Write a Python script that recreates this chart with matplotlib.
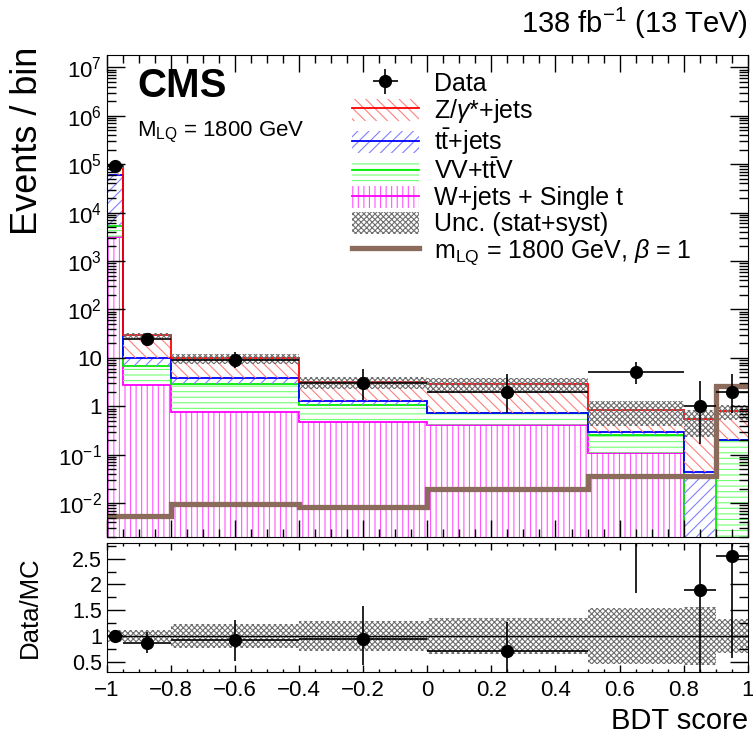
import numpy as np
import matplotlib
matplotlib.use('Agg')
import matplotlib.pyplot as plt
from matplotlib.patches import Patch
from matplotlib.lines import Line2D
from matplotlib.legend_handler import HandlerTuple
from matplotlib.ticker import MultipleLocator, FuncFormatter, LogLocator, NullFormatter

plt.rcParams['font.family'] = ['Liberation Sans', 'DejaVu Sans']
plt.rcParams['mathtext.fontset'] = 'custom'
plt.rcParams['mathtext.rm'] = 'Liberation Sans'
plt.rcParams['mathtext.it'] = 'Liberation Sans:italic'
plt.rcParams['mathtext.bf'] = 'Liberation Sans:bold'
plt.rcParams['hatch.linewidth'] = 0.8

# BDT score binning
edges = np.array([-1.0, -0.95, -0.8, -0.4, 0.0, 0.5, 0.8, 0.9, 1.0])

# backgrounds, events per bin (stack order: bottom first)
wjets = [3100, 2.7, 0.77, 0.48, 0.42, 0.11, 0.0, 0.0]
vv = [2300, 4.0, 2.1, 0.58, 0.29, 0.15, 0.0, 0.2]
ttbar = [53600, 3.3, 0.9, 0.24, 0.01, 0.03, 0.044, 0.005]
zjets = [33000, 19.0, 6.0, 1.85, 2.13, 0.55, 0.49, 0.58]
rel_unc = [0.12, 0.12, 0.24, 0.29, 0.35, 0.54, 0.57, 0.33]
signal = [0.0055, 0.0055, 0.0095, 0.0085, 0.020, 0.037, 0.037, 2.6]

data = [90000, 25, 9, 3, 2, 5, 1, 2]
data_err_lo = [300, 4.97, 2.94, 1.63, 1.29, 2.16, 0.83, 1.29]
data_err_hi = [300, 6.1, 4.1, 2.92, 2.64, 3.38, 2.3, 2.64]

ratio = [1.0, 0.87, 0.92, 0.95, 0.70, 5.9, 1.9, 2.55]
ratio_err_lo = [0.01, 0.2, 0.4, 0.52, 0.45, 4.07, 1.6, 1.97]
ratio_err_hi = [0.01, 0.2, 0.39, 0.63, 0.57, 2.0, 2.5, 1.5]

centers = 0.5 * (edges[1:] + edges[:-1])
halfw = 0.5 * (edges[1:] - edges[:-1])

fig = plt.figure(figsize=(7.53, 7.37), dpi=100)
ax = fig.add_axes([0.142, 0.2714, 0.851, 0.654])
rax = fig.add_axes([0.142, 0.0882, 0.851, 0.1748])

floor = 1e-5
comps = [
    (wjets, '#ff00ff', '#ff55ff', '|||', 'W+jets + Single t'),
    (vv, '#00ee00', '#70ff70', '---', r'VV+t$\bar{\mathrm{t}}$V'),
    (ttbar, '#0000ff', '#8080ff', '///', r't$\bar{\mathrm{t}}$+jets'),
    (zjets, '#ff0000', '#ff8080', '\\\\\\', r'Z/$\gamma$*+jets'),
]
low = np.zeros(len(centers))
handles = {}
for vals, col, hcol, hatch, label in comps:
    high = low + np.array(vals)
    ax.stairs(np.maximum(high, floor), edges, baseline=np.maximum(low, floor), fill=True,
              facecolor='none', edgecolor=hcol, hatch=hatch, linewidth=0)
    ax.stairs(np.maximum(high, floor), edges, baseline=None, color=col, lw=1.3)
    handles[label] = (Patch(facecolor='none', edgecolor=hcol, hatch=hatch, linewidth=0),
                      Line2D([], [], color=col, lw=1.3))
    low = high
total = low
unc = np.array(rel_unc)

# uncertainty band
ax.stairs(total * (1 + unc), edges, baseline=total * (1 - unc), fill=True,
          facecolor='none', edgecolor='#6e6e6e', hatch='xxxxxx', linewidth=0)

# signal
ax.stairs(signal, edges, baseline=None, color='#8b6b5b', lw=3.8)

# data
dat = ax.errorbar(centers, data, xerr=halfw, yerr=[data_err_lo, data_err_hi], fmt='o',
                  color='k', ms=8.5, lw=1.2, capsize=0)

ax.set_yscale('log')
ax.set_xlim(-1, 1)
ax.set_ylim(2e-3, 1.8e7)


def logfmt(v, pos):
    if np.isclose(v, 1):
        return '1'
    if np.isclose(v, 10):
        return '10'
    return r'$10^{%d}$' % int(round(np.log10(v)))


ax.yaxis.set_major_locator(LogLocator(base=10, numticks=20))
ax.yaxis.set_minor_locator(LogLocator(base=10, subs=np.arange(2, 10) * 1.0, numticks=100))
ax.yaxis.set_major_formatter(FuncFormatter(logfmt))
ax.yaxis.set_minor_formatter(NullFormatter())
ax.xaxis.set_major_locator(MultipleLocator(0.2))
ax.xaxis.set_minor_locator(MultipleLocator(0.05))
ax.tick_params(axis='x', labelbottom=False)
ax.tick_params(which='both', direction='in', top=True, right=True, width=1, labelsize=16)
ax.tick_params(axis='y', which='major', length=13)
ax.tick_params(axis='y', which='minor', length=6.5)
ax.tick_params(axis='x', which='major', length=12)
ax.tick_params(axis='x', which='minor', length=6)
ax.set_ylabel('Events / bin', fontsize=26, loc='top')
ax.yaxis.set_label_coords(-0.096, 1.017)

ax.text(0.047, 0.975, 'CMS', transform=ax.transAxes, fontsize=29, fontweight='bold',
        va='top', ha='left')
ax.text(0.047, 0.865, r'M$_{\mathrm{LQ}}$ = 1800 GeV', transform=ax.transAxes, fontsize=16,
        va='top', ha='left')
fig.text(0.993, 0.945, r'138 fb$^{\mathregular{-1}}$ (13 TeV)', fontsize=21, ha='right', va='bottom')

sig_h = Line2D([], [], color='#8b6b5b', lw=3.8)
unc_h = Patch(facecolor='none', edgecolor='#6e6e6e', hatch='xxxxxx', linewidth=0)
leg_handles = [dat, handles[r'Z/$\gamma$*+jets'], handles[r't$\bar{\mathrm{t}}$+jets'],
               handles[r'VV+t$\bar{\mathrm{t}}$V'], handles['W+jets + Single t'], unc_h, sig_h]
leg_labels = ['Data', r'Z/$\gamma$*+jets', r't$\bar{\mathrm{t}}$+jets', r'VV+t$\bar{\mathrm{t}}$V',
              'W+jets + Single t', 'Unc. (stat+syst)', r'm$_{\mathrm{LQ}}$ = 1800 GeV, $\beta$ = 1']
ax.legend(leg_handles, leg_labels, loc='upper left', bbox_to_anchor=(0.382, 0.966), frameon=False,
          fontsize=18, handlelength=2.7, handleheight=1.0, handletextpad=0.6, labelspacing=0.05,
          borderpad=0, borderaxespad=0, handler_map={tuple: HandlerTuple(ndivide=1)})

# ratio panel
rax.stairs(1 + unc, edges, baseline=1 - unc, fill=True, facecolor='none', edgecolor='#6e6e6e',
           hatch='xxxxxx', linewidth=0)
rax.axhline(1, color='k', lw=1)
rax.errorbar(centers, ratio, xerr=halfw, yerr=[ratio_err_lo, ratio_err_hi], fmt='o', color='k',
             ms=8.5, lw=1.2, capsize=0)
rax.set_xlim(-1, 1)
rax.set_ylim(0.3, 2.8)
rax.xaxis.set_major_locator(MultipleLocator(0.2))
rax.xaxis.set_minor_locator(MultipleLocator(0.05))
rax.yaxis.set_major_locator(MultipleLocator(0.5))
rax.yaxis.set_minor_locator(MultipleLocator(0.25))
rax.xaxis.set_major_formatter(FuncFormatter(lambda v, p: ('%g' % round(v, 2)).replace('-', '\u2212')))
rax.yaxis.set_major_formatter(FuncFormatter(lambda v, p: '%g' % v))
rax.tick_params(which='both', direction='in', top=True, right=True, width=1, labelsize=16)
rax.tick_params(axis='y', labelsize=15.5)
rax.tick_params(axis='y', which='major', length=13)
rax.tick_params(axis='y', which='minor', length=6.5)
rax.tick_params(axis='x', which='major', length=5, pad=6)
rax.tick_params(axis='x', which='minor', length=2.5)
rax.set_ylabel('Data/MC', fontsize=18.5)
rax.yaxis.set_label_coords(-0.101, 0.5)
rax.set_xlabel('BDT score', fontsize=21, loc='right')
rax.xaxis.set_label_coords(1.0, -0.27)

fig.savefig('out.png', dpi=100)
